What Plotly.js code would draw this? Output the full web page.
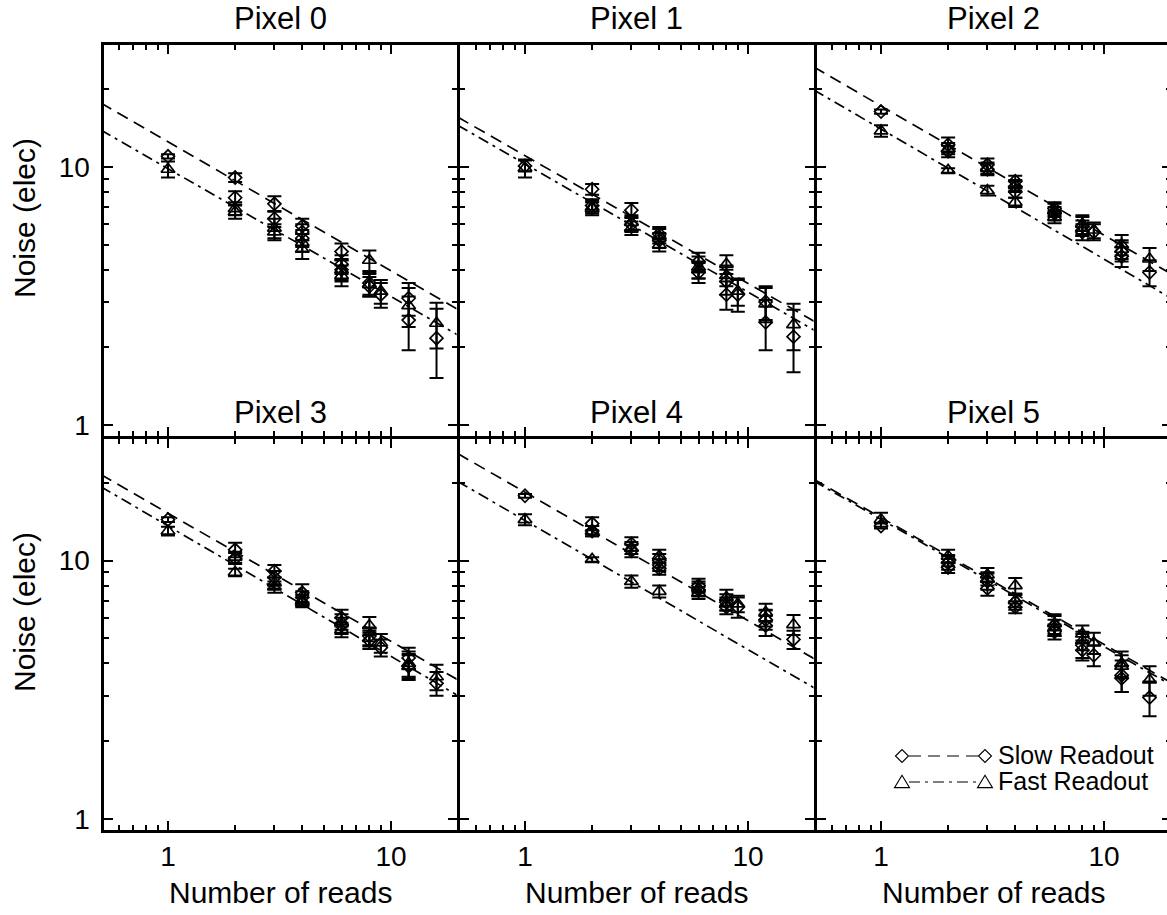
<!DOCTYPE html>
<html><head><meta charset="utf-8">
<script src="https://cdn.plot.ly/plotly-3.0.1.min.js"></script>
<style>html,body{margin:0;padding:0;overflow:hidden;background:#fff}#plot{width:1172px;height:915px}</style>
</head><body><div id="plot"></div>
<script>
// ---------------- data ----------------
const panelTitles = ['Pixel 0', 'Pixel 1', 'Pixel 2', 'Pixel 3', 'Pixel 4', 'Pixel 5'];
const xAxisTitle = 'Number of reads';
const yAxisTitle = 'Noise (elec)';
const seriesNames = ['Slow Readout', 'Fast Readout'];

const xTickVals = [1, 10];
const xTickText = ['1', '10'];
const xMinorVals = [0.6, 0.7, 0.8, 0.9, 2, 3, 4, 5, 6, 7, 8, 9, 20];
const yTickVals = [1, 10];
const yTickText = ['1', '10'];
const yMinorVals = [2, 3, 4, 5, 6, 7, 8, 9, 20, 30];

// fit lines: noise at the ends of the read range
const fitReads = [0.5, 20];

// Pixel 0
const pix0SlowReads = [1, 2, 2, 3, 3, 4, 4, 4, 6, 6, 6, 8, 8, 9, 12, 12, 16];
const pix0SlowNoise = [11.0, 9.1, 7.6, 7.2, 6.3, 5.9, 5.6, 5.3, 4.7, 4.2, 4.0, 3.55, 3.45, 3.2, 3.1, 2.55, 2.17];
const pix0SlowErr   = [0.2, 0.35, 0.45, 0.5, 0.45, 0.4, 0.4, 0.4, 0.35, 0.35, 0.35, 0.35, 0.3, 0.35, 0.45, 0.6, 0.65];
const pix0FastReads = [1, 2, 2, 3, 3, 4, 4, 6, 6, 8, 8, 9, 12, 16];
const pix0FastNoise = [9.8, 6.7, 6.9, 5.8, 5.6, 5.1, 4.8, 4.0, 3.8, 4.35, 3.5, 3.3, 2.9, 2.48];
const pix0FastErr   = [0.7, 0.4, 0.4, 0.5, 0.4, 0.4, 0.4, 0.4, 0.35, 0.4, 0.35, 0.35, 0.5, 0.5];
const pix0SlowFit = [17.7, 2.80];
const pix0FastFit = [13.9, 2.23];

// Pixel 1
const pix1SlowReads = [1, 2, 2, 3, 3, 4, 4, 6, 6, 8, 8, 9, 12, 12, 16];
const pix1SlowNoise = [10.1, 8.2, 7.1, 6.8, 6.0, 5.5, 5.2, 4.3, 3.9, 3.6, 3.2, 3.2, 3.0, 2.5, 2.2];
const pix1SlowErr   = [0.5, 0.4, 0.4, 0.45, 0.4, 0.35, 0.35, 0.35, 0.35, 0.4, 0.4, 0.45, 0.45, 0.55, 0.6];
const pix1FastReads = [1, 2, 2, 3, 3, 4, 4, 6, 6, 8, 8, 9, 12, 16];
const pix1FastNoise = [9.9, 6.9, 7.0, 6.1, 5.8, 5.4, 5.0, 4.1, 4.0, 4.2, 3.8, 3.3, 2.95, 2.45];
const pix1FastErr   = [0.8, 0.4, 0.4, 0.4, 0.35, 0.35, 0.3, 0.4, 0.3, 0.35, 0.35, 0.4, 0.45, 0.5];
const pix1SlowFit = [15.6, 2.51];
const pix1FastFit = [14.5, 2.32];

// Pixel 2
const pix2SlowReads = [1, 2, 2, 3, 3, 4, 4, 4, 6, 6, 8, 8, 9, 12, 12, 16];
const pix2SlowNoise = [16.4, 12.2, 11.5, 10.2, 9.8, 8.8, 8.4, 8.0, 6.9, 6.6, 5.9, 5.6, 5.6, 4.7, 4.5, 3.9];
const pix2SlowErr   = [0.3, 0.8, 0.6, 0.6, 0.5, 0.45, 0.4, 0.4, 0.4, 0.4, 0.5, 0.4, 0.4, 0.4, 0.4, 0.45];
const pix2FastReads = [1, 2, 2, 3, 3, 4, 4, 6, 6, 8, 8, 9, 12, 12, 16];
const pix2FastNoise = [13.8, 11.8, 9.7, 9.9, 8.1, 8.5, 7.3, 6.8, 6.4, 6.0, 5.8, 5.7, 5.0, 4.8, 4.4];
const pix2FastErr   = [0.7, 0.6, 0.2, 0.5, 0.35, 0.4, 0.3, 0.4, 0.35, 0.5, 0.4, 0.4, 0.45, 0.4, 0.45];
const pix2SlowFit = [24.4, 3.85];
const pix2FastFit = [19.9, 3.1];

// Pixel 3
const pix3SlowReads = [1, 2, 2, 3, 3, 4, 4, 6, 6, 8, 8, 9, 12, 12, 16];
const pix3SlowNoise = [14.4, 11.0, 10.2, 9.1, 8.6, 7.5, 7.2, 6.0, 5.6, 5.1, 4.9, 4.6, 4.2, 3.9, 3.35];
const pix3SlowErr   = [0.3, 0.7, 0.5, 0.5, 0.5, 0.6, 0.4, 0.45, 0.4, 0.4, 0.35, 0.35, 0.4, 0.45, 0.35];
const pix3FastReads = [1, 2, 2, 3, 3, 4, 4, 6, 6, 8, 8, 9, 12, 12, 16];
const pix3FastNoise = [13.0, 10.3, 9.0, 8.2, 7.9, 7.0, 6.9, 5.8, 5.4, 5.6, 5.0, 4.8, 4.0, 3.9, 3.55];
const pix3FastErr   = [0.5, 0.5, 0.3, 0.4, 0.4, 0.35, 0.3, 0.4, 0.35, 0.45, 0.35, 0.4, 0.45, 0.4, 0.4];
const pix3SlowFit = [21.5, 3.45];
const pix3FastFit = [19.3, 3.0];

// Pixel 4
const pix4SlowReads = [1, 2, 2, 3, 3, 4, 4, 4, 6, 6, 8, 8, 9, 12, 12, 16];
const pix4SlowNoise = [17.8, 13.9, 13.0, 11.6, 10.9, 10.0, 9.6, 9.3, 8.0, 7.7, 6.9, 6.6, 6.6, 5.9, 5.6, 4.95];
const pix4SlowErr   = [0.3, 0.8, 0.6, 0.7, 0.6, 0.6, 0.5, 0.5, 0.5, 0.45, 0.5, 0.4, 0.6, 0.5, 0.5, 0.4];
const pix4FastReads = [1, 2, 2, 3, 3, 4, 4, 6, 6, 8, 8, 9, 12, 12, 16];
const pix4FastNoise = [14.4, 13.0, 10.1, 11.2, 8.3, 10.4, 7.6, 7.8, 7.5, 7.2, 6.8, 6.8, 6.3, 6.0, 5.65];
const pix4FastErr   = [0.7, 0.6, 0.2, 0.6, 0.45, 0.6, 0.4, 0.5, 0.4, 0.5, 0.4, 0.5, 0.5, 0.45, 0.5];
const pix4SlowFit = [25.9, 4.15];
const pix4FastFit = [20.2, 3.2];

// Pixel 5
const pix5SlowReads = [1, 2, 2, 3, 3, 4, 4, 6, 6, 8, 8, 9, 12, 12, 16];
const pix5SlowNoise = [13.6, 9.8, 9.4, 8.3, 7.8, 6.9, 6.6, 5.6, 5.3, 4.7, 4.5, 4.3, 3.6, 3.5, 2.95];
const pix5SlowErr   = [0.3, 0.6, 0.45, 0.6, 0.5, 0.45, 0.35, 0.5, 0.35, 0.5, 0.4, 0.4, 0.5, 0.4, 0.45];
const pix5FastReads = [1, 2, 2, 3, 3, 4, 4, 6, 6, 8, 8, 9, 12, 12, 16];
const pix5FastNoise = [14.4, 10.4, 10.0, 8.8, 8.5, 8.0, 7.0, 5.7, 5.5, 5.2, 4.9, 4.8, 4.0, 3.9, 3.45];
const pix5FastErr   = [0.9, 0.6, 0.5, 0.55, 0.5, 0.55, 0.4, 0.5, 0.4, 0.4, 0.4, 0.45, 0.45, 0.4, 0.45];
const pix5SlowFit = [20.6, 3.37];
const pix5FastFit = [20.3, 3.30];

// ---------------- assembly ----------------
const panels = [
  {sx: pix0SlowReads, sy: pix0SlowNoise, se: pix0SlowErr, fx: pix0FastReads, fy: pix0FastNoise, fe: pix0FastErr, sf: pix0SlowFit, ff: pix0FastFit},
  {sx: pix1SlowReads, sy: pix1SlowNoise, se: pix1SlowErr, fx: pix1FastReads, fy: pix1FastNoise, fe: pix1FastErr, sf: pix1SlowFit, ff: pix1FastFit},
  {sx: pix2SlowReads, sy: pix2SlowNoise, se: pix2SlowErr, fx: pix2FastReads, fy: pix2FastNoise, fe: pix2FastErr, sf: pix2SlowFit, ff: pix2FastFit},
  {sx: pix3SlowReads, sy: pix3SlowNoise, se: pix3SlowErr, fx: pix3FastReads, fy: pix3FastNoise, fe: pix3FastErr, sf: pix3SlowFit, ff: pix3FastFit},
  {sx: pix4SlowReads, sy: pix4SlowNoise, se: pix4SlowErr, fx: pix4FastReads, fy: pix4FastNoise, fe: pix4FastErr, sf: pix4SlowFit, ff: pix4FastFit},
  {sx: pix5SlowReads, sy: pix5SlowNoise, se: pix5SlowErr, fx: pix5FastReads, fy: pix5FastNoise, fe: pix5FastErr, sf: pix5SlowFit, ff: pix5FastFit}
];

const FONT = 'Liberation Sans, Arial, Helvetica, sans-serif';
const W = 1172, H = 915;
const LW = 3;                              // frame line width
const colEdges = [102, 458, 815, 1172];    // frame line centres, px
const rowEdges = [43, 437, 831];
const colOneX = [168, 525, 881];           // pixel of x = 1 in each column
const xDecade = 223;                       // px per decade in x
const rowOneY = [425, 819];                // pixel of y = 1 in each row
const yDecade = [258, 258.5];              // px per decade in y
const SLOW_DASH = '12px,7px';
const FAST_DASH = '11px,5px,3px,5px';

const traces = [];
const layout = {
  width: W, height: H,
  margin: {l: 0, r: 0, t: 0, b: 0},
  paper_bgcolor: '#fff', plot_bgcolor: '#fff',
  showlegend: false,
  font: {family: FONT, color: '#000'},
  annotations: [], shapes: []
};

panels.forEach((p, i) => {
  const k = i + 1;
  const col = i % 3, row = Math.floor(i / 3);
  const xa = 'x' + (k === 1 ? '' : k), ya = 'y' + (k === 1 ? '' : k);
  const common = {xaxis: xa, yaxis: ya, showlegend: false, hoverinfo: 'x+y'};

  traces.push(Object.assign({type: 'scatter', mode: 'lines', name: seriesNames[0] + ' fit', x: fitReads, y: p.sf,
    line: {color: '#000', width: 1.7, dash: SLOW_DASH}}, common));
  traces.push(Object.assign({type: 'scatter', mode: 'lines', name: seriesNames[1] + ' fit', x: fitReads, y: p.ff,
    line: {color: '#000', width: 1.7, dash: FAST_DASH}}, common));
  traces.push(Object.assign({type: 'scatter', mode: 'markers', name: seriesNames[0], x: p.sx, y: p.sy,
    marker: {symbol: 'diamond-open', size: 10, color: '#000', line: {width: 1.7, color: '#000'}},
    error_y: {type: 'data', array: p.se, visible: true, thickness: 2, width: 7, color: '#000'}}, common));
  traces.push(Object.assign({type: 'scatter', mode: 'markers', name: seriesNames[1], x: p.fx, y: p.fy,
    marker: {symbol: 'triangle-up-open', size: 12, color: '#000', line: {width: 1.7, color: '#000'}},
    error_y: {type: 'data', array: p.fe, visible: true, thickness: 2, width: 7, color: '#000'}}, common));

  // plot area inside the frame lines (Plotly draws lines outside the domain)
  const xl = colEdges[col] + LW / 2, xr = colEdges[col + 1] - LW / 2;
  const yt = rowEdges[row] + LW / 2, yb = rowEdges[row + 1] - LW / 2;

  const axBase = {
    type: 'log', showline: true, linecolor: '#000', linewidth: LW, mirror: 'ticks',
    ticks: 'inside', ticklen: 9, tickwidth: 2, tickcolor: '#000',
    tickmode: 'array', showgrid: false, zeroline: false, fixedrange: true,
    tickfont: {family: FONT, size: 28, color: '#000'}
  };
  layout['xaxis' + (k === 1 ? '' : k)] = Object.assign({}, axBase, {
    domain: [xl / W, xr / W],
    range: [(xl - colOneX[col]) / xDecade, (xr - colOneX[col]) / xDecade],
    anchor: ya, tickvals: xTickVals, ticktext: xTickText,
    showticklabels: row === 1, ticklabelstandoff: 0,
    minor: {ticks: 'inside', ticklen: 5, tickwidth: 2, tickcolor: '#000', tickmode: 'array', tickvals: xMinorVals, showgrid: false}
  });
  layout['yaxis' + (k === 1 ? '' : k)] = Object.assign({}, axBase, {
    domain: [1 - yb / H, 1 - yt / H],
    range: [(rowOneY[row] - yb) / yDecade[row], (rowOneY[row] - yt) / yDecade[row]],
    anchor: xa, tickvals: yTickVals, ticktext: yTickText,
    showticklabels: col === 0, ticklabelstandoff: 5,
    minor: {ticks: 'inside', ticklen: 5, tickwidth: 2, tickcolor: '#000', tickmode: 'array', tickvals: yMinorVals, showgrid: false}
  });

  // panel title
  layout.annotations.push({
    text: panelTitles[i], xref: 'paper', yref: 'paper', showarrow: false,
    x: (colEdges[col] + colEdges[col + 1]) / 2 / W, y: 1 - (row === 0 ? 18.5 : 412) / H,
    xanchor: 'center', yanchor: 'middle', font: {family: FONT, size: 31, color: '#000'}
  });
  if (row === 1) {
    layout.annotations.push({
      text: xAxisTitle, xref: 'paper', yref: 'paper', showarrow: false,
      x: (colEdges[col] + colEdges[col + 1]) / 2 / W, y: 1 - 892 / H,
      xanchor: 'center', yanchor: 'middle', font: {family: FONT, size: 30, color: '#000'}
    });
  }
  if (col === 0) {
    layout.annotations.push({
      text: yAxisTitle, xref: 'paper', yref: 'paper', showarrow: false, textangle: -90,
      x: 24 / W, y: 1 - (row === 0 ? 218 : 612) / H,
      xanchor: 'center', yanchor: 'middle', font: {family: FONT, size: 30, color: '#000'}
    });
  }
});

// legend (drawn in the Pixel 5 panel, lower right)
function px(x) { return x / W; }
function py(y) { return 1 - y / H; }
function diamondPath(cx, cy, r) {
  return 'M' + px(cx - r) + ',' + py(cy) + ' L' + px(cx) + ',' + py(cy - r) + ' L' + px(cx + r) + ',' + py(cy) + ' L' + px(cx) + ',' + py(cy + r) + ' Z';
}
function trianglePath(cx, cy, r) {
  return 'M' + px(cx - r) + ',' + py(cy + r * 0.75) + ' L' + px(cx + r) + ',' + py(cy + r * 0.75) + ' L' + px(cx) + ',' + py(cy - r * 0.9) + ' Z';
}
const legRows = [{y: 756, dash: SLOW_DASH, sym: 'd'}, {y: 782, dash: FAST_DASH, sym: 't'}];
legRows.forEach((r, j) => {
  layout.shapes.push({type: 'line', xref: 'paper', yref: 'paper', x0: px(909), x1: px(978), y0: py(r.y), y1: py(r.y),
    line: {color: '#555', width: 1.3, dash: r.dash}});
  [902, 985].forEach(cx => {
    layout.shapes.push({type: 'path', xref: 'paper', yref: 'paper',
      path: r.sym === 'd' ? diamondPath(cx, r.y, 6.5) : trianglePath(cx, r.y, 7.5),
      line: {color: '#000', width: 1.1}, fillcolor: '#fff'});
  });
  layout.annotations.push({text: seriesNames[j], xref: 'paper', yref: 'paper', showarrow: false,
    x: px(997), y: py(r.y - 1), xanchor: 'left', yanchor: 'middle', borderpad: 0,
    font: {family: FONT, size: 25, color: '#000'}});
});

Plotly.newPlot('plot', traces, layout, {displayModeBar: false, staticPlot: true});
</script>
</body></html>
